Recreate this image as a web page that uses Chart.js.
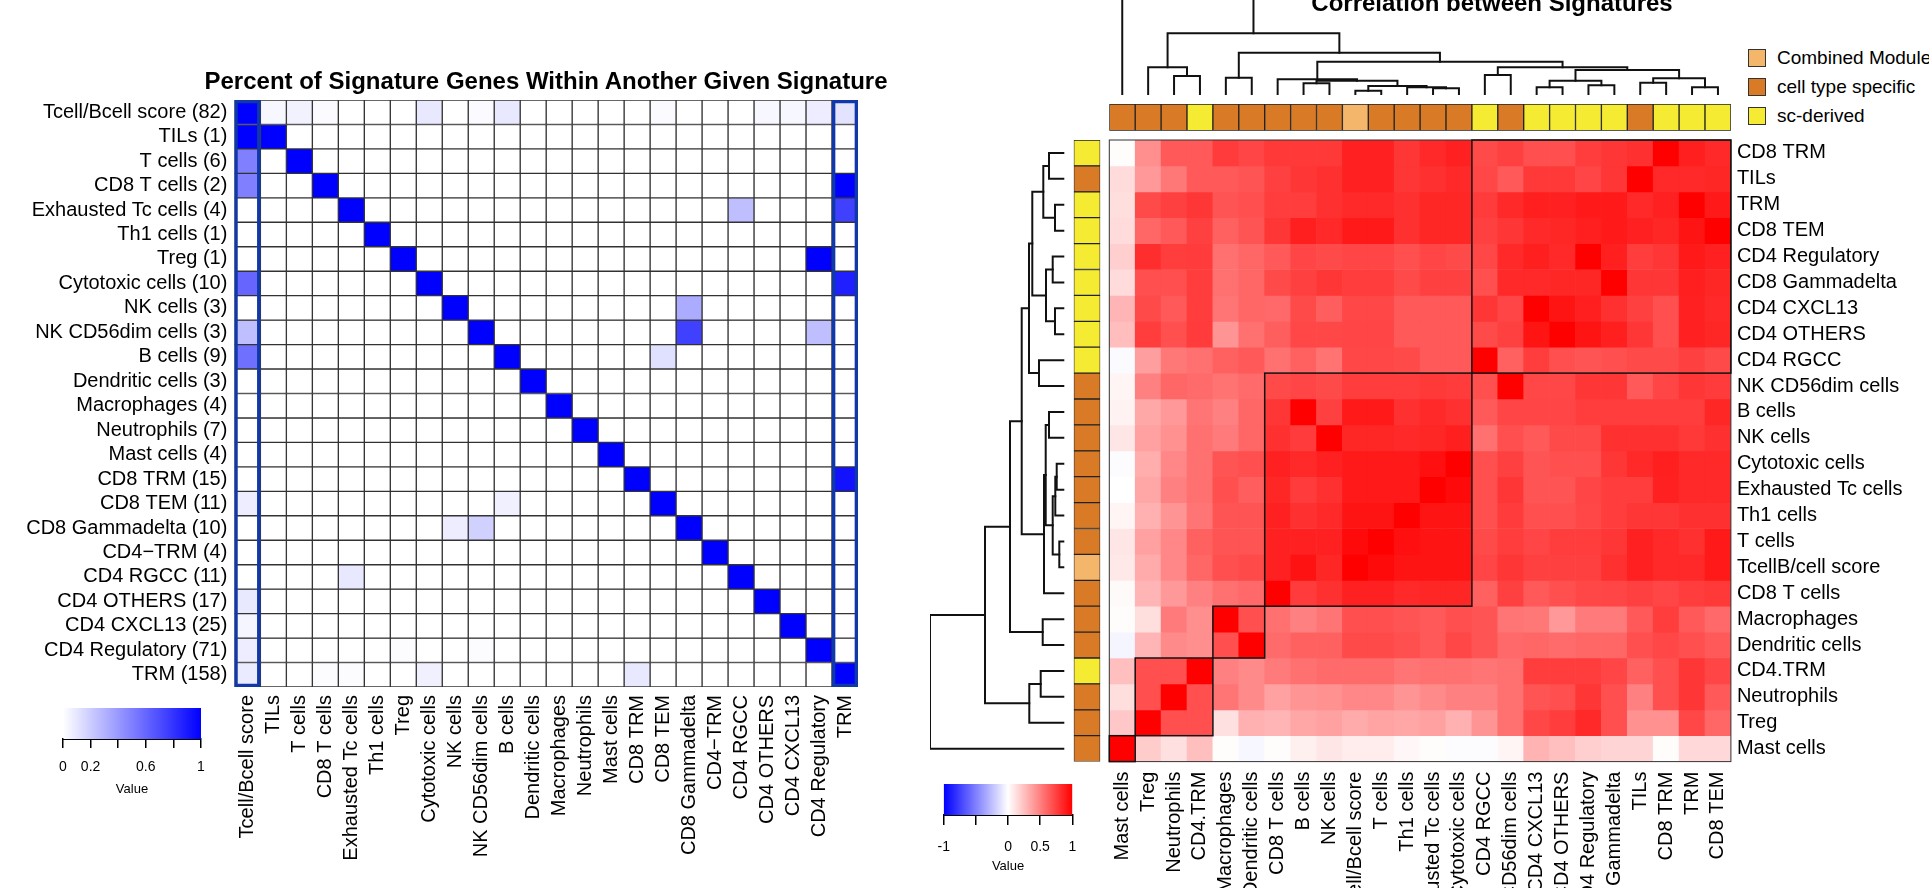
<!DOCTYPE html>
<html>
<head>
<meta charset="utf-8">
<title>Signature overlap and correlation</title>
<script src="https://cdn.jsdelivr.net/npm/chart.js@4.4.1/dist/chart.umd.min.js"></script>
<style>
  html, body { margin: 0; padding: 0; background: #fff; }
  #page { position: relative; width: 1929px; height: 888px; overflow: hidden; background: #fff;
          font-family: "Liberation Sans", Arial, sans-serif; color: #000; }
  canvas { position: absolute; }
  .title { position: absolute; transform: translateX(-50%); font-weight: bold; font-size: 24px;
           line-height: 24px; white-space: nowrap; }
  #overlapTitle { left: 546px; top: 69px; }
  #corrTitle { left: 1492px; top: -9px; }
  .grp { position: absolute; left: 1748px; height: 18px; display: flex; align-items: center;
         font-size: 19px; white-space: nowrap; }
  .grp span { display: inline-block; width: 16px; height: 16px; border: 1px solid #333; margin-right: 11px; }
</style>
</head>
<body>
<div id="page">
  <canvas id="overlap" width="900" height="888" style="left:0;top:0"></canvas>
  <canvas id="overlapKey" width="190" height="110" style="left:40px;top:700px"></canvas>
  <canvas id="colTree" width="640" height="100" style="left:1100px;top:0"></canvas>
  <canvas id="colBar" width="640" height="35" style="left:1100px;top:100px"></canvas>
  <canvas id="rowTree" width="150" height="640" style="left:920px;top:130px"></canvas>
  <canvas id="rowBar" width="35" height="640" style="left:1070px;top:130px"></canvas>
  <canvas id="corr" width="829" height="758" style="left:1100px;top:130px"></canvas>
  <canvas id="corrKey" width="180" height="112" style="left:920px;top:776px"></canvas>
  <div class="title" id="overlapTitle">Percent of Signature Genes Within Another Given Signature</div>
  <div class="title" id="corrTitle">Correlation between Signatures</div>
  <div id="groupKey"></div>
</div>
<script>
// ---- left panel: share of genes of one signature found in another
const overlapRows = ["Tcell/Bcell score (82)", "TILs (1)", "T cells (6)", "CD8 T cells (2)",
  "Exhausted Tc cells (4)", "Th1 cells (1)", "Treg (1)", "Cytotoxic cells (10)", "NK cells (3)",
  "NK CD56dim cells (3)", "B cells (9)", "Dendritic cells (3)", "Macrophages (4)", "Neutrophils (7)",
  "Mast cells (4)", "CD8 TRM (15)", "CD8 TEM (11)", "CD8 Gammadelta (10)", "CD4\u2212TRM (4)",
  "CD4 RGCC (11)", "CD4 OTHERS (17)", "CD4 CXCL13 (25)", "CD4 Regulatory (71)", "TRM (158)"];
const overlapCols = ["Tcell/Bcell score", "TILs", "T cells", "CD8 T cells", "Exhausted Tc cells",
  "Th1 cells", "Treg", "Cytotoxic cells", "NK cells", "NK CD56dim cells", "B cells", "Dendritic cells",
  "Macrophages", "Neutrophils", "Mast cells", "CD8 TRM", "CD8 TEM", "CD8 Gammadelta", "CD4\u2212TRM",
  "CD4 RGCC", "CD4 OTHERS", "CD4 CXCL13", "CD4 Regulatory", "TRM"];
const overlapValues = [
  [1, .03, .05, .02, 0, 0, 0, .09, 0, .02, .09, 0, 0, 0, 0, 0, .02, 0, 0, 0, .03, .03, .07, .11],
  [1, 1, 0, 0, 0, 0, 0, 0, 0, 0, 0, 0, 0, 0, 0, 0, 0, 0, 0, 0, 0, 0, 0, 0],
  [.5, 0, 1, 0, 0, 0, 0, 0, 0, 0, 0, 0, 0, 0, 0, 0, 0, 0, 0, 0, 0, 0, 0, 0],
  [.5, 0, 0, 1, 0, 0, 0, 0, 0, 0, 0, 0, 0, 0, 0, 0, 0, 0, 0, 0, 0, 0, 0, 1],
  [0, 0, 0, 0, 1, 0, 0, 0, 0, 0, 0, 0, 0, 0, 0, 0, 0, 0, 0, .25, 0, 0, 0, .75],
  [0, 0, 0, 0, 0, 1, 0, 0, 0, 0, 0, 0, 0, 0, 0, 0, 0, 0, 0, 0, 0, 0, 0, 0],
  [0, 0, 0, 0, 0, 0, 1, 0, 0, 0, 0, 0, 0, 0, 0, 0, 0, 0, 0, 0, 0, 0, 1, 0],
  [.6, 0, 0, 0, 0, 0, 0, 1, 0, 0, 0, 0, 0, 0, 0, 0, 0, 0, 0, 0, 0, 0, 0, .88],
  [0, 0, 0, 0, 0, 0, 0, 0, 1, 0, 0, 0, 0, 0, 0, 0, 0, .33, 0, 0, 0, 0, 0, 0],
  [.25, 0, 0, 0, 0, 0, 0, 0, 0, 1, 0, 0, 0, 0, 0, 0, 0, .75, 0, 0, 0, 0, .25, 0],
  [.56, 0, 0, 0, 0, 0, 0, 0, 0, 0, 1, 0, 0, 0, 0, 0, .12, 0, 0, 0, 0, 0, 0, 0],
  [0, 0, 0, 0, 0, 0, 0, 0, 0, 0, 0, 1, 0, 0, 0, 0, 0, 0, 0, 0, 0, 0, 0, 0],
  [0, 0, 0, 0, 0, 0, 0, 0, 0, 0, 0, 0, 1, 0, 0, 0, 0, 0, 0, 0, 0, 0, 0, 0],
  [0, 0, 0, 0, 0, 0, 0, 0, 0, 0, 0, 0, 0, 1, 0, 0, 0, 0, 0, 0, 0, 0, 0, 0],
  [0, 0, 0, 0, 0, 0, 0, 0, 0, 0, 0, 0, 0, 0, 1, 0, 0, 0, 0, 0, 0, 0, 0, 0],
  [0, 0, 0, 0, 0, 0, 0, 0, 0, 0, 0, 0, 0, 0, 0, 1, 0, 0, 0, 0, 0, 0, 0, .93],
  [.07, 0, 0, 0, 0, 0, 0, 0, 0, 0, .06, 0, 0, 0, 0, 0, 1, 0, 0, 0, 0, 0, 0, 0],
  [0, 0, 0, 0, 0, 0, 0, 0, .07, .18, 0, 0, 0, 0, 0, 0, 0, 1, 0, 0, 0, 0, 0, 0],
  [0, 0, 0, 0, 0, 0, 0, 0, 0, 0, 0, 0, 0, 0, 0, 0, 0, 0, 1, 0, 0, 0, 0, 0],
  [0, 0, 0, 0, .09, 0, 0, 0, 0, 0, 0, 0, 0, 0, 0, 0, 0, 0, 0, 1, 0, 0, 0, 0],
  [.09, 0, 0, 0, 0, 0, 0, 0, 0, 0, 0, 0, 0, 0, 0, 0, 0, 0, 0, 0, 1, 0, 0, 0],
  [.04, 0, 0, 0, 0, 0, 0, 0, 0, 0, 0, 0, 0, 0, 0, 0, 0, 0, 0, 0, 0, 1, 0, 0],
  [.07, 0, 0, 0, 0, 0, .01, 0, 0, .01, 0, 0, 0, 0, 0, 0, 0, 0, 0, 0, 0, 0, 1, 0],
  [.08, 0, 0, .01, .01, 0, 0, .06, 0, 0, 0, 0, 0, 0, 0, .09, 0, 0, 0, 0, 0, 0, 0, 1]
];
const framedCols = [0, 23];
const overlapKeyTicks = [0, 0.2, 0.4, 0.6, 0.8, 1];
const overlapKeyLabels = ["0", "0.2", "", "0.6", "", "1"];

// ---- right panel: correlation between signatures (clustered order)
const corrRows = ["CD8 TRM", "TILs", "TRM", "CD8 TEM", "CD4 Regulatory", "CD8 Gammadelta", "CD4 CXCL13",
  "CD4 OTHERS", "CD4 RGCC", "NK CD56dim cells", "B cells", "NK cells", "Cytotoxic cells",
  "Exhausted Tc cells", "Th1 cells", "T cells", "TcellB/cell score", "CD8 T cells", "Macrophages",
  "Dendritic cells", "CD4.TRM", "Neutrophils", "Treg", "Mast cells"];
const corrCols = ["Mast cells", "Treg", "Neutrophils", "CD4.TRM", "Macrophages", "Dendritic cells",
  "CD8 T cells", "B cells", "NK cells", "Tcell/Bcell score", "T cells", "Th1 cells", "Exhausted Tc cells",
  "Cytotoxic cells", "CD4 RGCC", "NK CD56dim cells", "CD4 CXCL13", "CD4 OTHERS", "CD4 Regulatory",
  "CD8 Gammadelta", "TILs", "CD8 TRM", "TRM", "CD8 TEM"];
const corrValues = [
  [.01, .44, .65, .65, .77, .73, .78, .78, .78, .87, .87, .79, .84, .87, .71, .75, .69, .69, .76, .79, .81, 1, .88, .84],
  [.14, .40, .53, .65, .65, .67, .75, .79, .81, .87, .87, .79, .81, .84, .72, .65, .78, .78, .73, .79, 1, .84, .84, .85],
  [.13, .71, .75, .79, .67, .69, .76, .76, .81, .84, .84, .81, .85, .85, .77, .84, .88, .87, .90, .90, .84, .87, 1, .90],
  [.14, .60, .65, .75, .62, .67, .79, .88, .84, .90, .90, .81, .85, .85, .75, .79, .84, .85, .88, .90, .87, .85, .92, 1],
  [.19, .82, .76, .77, .56, .60, .65, .73, .71, .73, .73, .69, .73, .71, .72, .84, .88, .84, 1, .88, .76, .79, .90, .87],
  [.14, .69, .69, .76, .56, .60, .71, .75, .79, .76, .76, .71, .75, .75, .69, .84, .84, .85, .85, 1, .79, .79, .88, .85],
  [.29, .71, .65, .76, .54, .60, .59, .71, .63, .72, .72, .65, .65, .65, .79, .73, 1, .92, .88, .81, .75, .69, .87, .84],
  [.26, .76, .69, .77, .42, .56, .63, .72, .72, .73, .73, .65, .65, .65, .71, .75, .92, 1, .92, .88, .79, .69, .87, .85],
  [-.02, .38, .53, .56, .62, .65, .56, .62, .55, .72, .72, .71, .65, .65, 1, .62, .76, .69, .67, .69, .71, .71, .75, .71],
  [.04, .50, .60, .58, .55, .58, .71, .73, .71, .76, .76, .76, .78, .77, .69, 1, .72, .72, .79, .79, .65, .73, .79, .77],
  [.05, .34, .40, .54, .50, .60, .79, 1, .75, .90, .90, .81, .84, .81, .65, .73, .73, .73, .76, .76, .76, .76, .76, .85],
  [.10, .37, .43, .56, .52, .60, .81, .77, 1, .85, .85, .84, .85, .88, .56, .69, .65, .71, .71, .81, .81, .81, .78, .81],
  [-.01, .32, .47, .56, .67, .69, .87, .84, .87, .90, .90, .90, .94, 1, .69, .75, .67, .69, .69, .79, .84, .88, .84, .84],
  [0, .35, .50, .56, .69, .63, .85, .77, .81, .90, .90, .90, 1, .96, .69, .79, .67, .67, .73, .76, .76, .87, .84, .84],
  [.04, .31, .42, .54, .67, .67, .87, .81, .84, .92, .92, 1, .92, .92, .69, .77, .69, .69, .72, .76, .79, .79, .81, .81],
  [.10, .37, .47, .62, .67, .67, .87, .87, .87, .96, 1, .94, .92, .92, .71, .76, .73, .76, .76, .79, .87, .84, .81, .90],
  [.09, .33, .47, .60, .69, .71, .87, .93, .85, 1, .96, .92, .92, .92, .73, .79, .75, .75, .75, .81, .87, .84, .84, .90],
  [.02, .29, .40, .50, .56, .59, 1, .77, .81, .87, .87, .84, .85, .85, .62, .75, .65, .69, .72, .73, .75, .73, .76, .78],
  [.01, .13, .52, .44, 1, .69, .56, .50, .54, .69, .69, .67, .65, .69, .67, .54, .53, .40, .52, .52, .65, .76, .65, .59],
  [-.04, .29, .46, .44, .69, 1, .58, .62, .62, .71, .71, .69, .65, .72, .67, .59, .60, .58, .60, .60, .69, .72, .69, .65],
  [.25, .69, .69, 1, .50, .46, .52, .56, .58, .58, .58, .54, .56, .56, .54, .56, .76, .76, .76, .73, .62, .69, .79, .73],
  [.13, .69, 1, .69, .54, .46, .37, .42, .43, .47, .47, .42, .46, .50, .50, .56, .67, .69, .79, .69, .50, .69, .79, .65],
  [.22, 1, .69, .69, .12, .31, .29, .35, .37, .33, .36, .35, .37, .31, .42, .56, .72, .76, .84, .69, .43, .43, .72, .60],
  [1, .20, .12, .25, .01, -.03, .01, .06, .10, .07, .07, .03, .01, -.01, -.01, .04, .30, .25, .19, .17, .17, .01, .15, .15]
];
// signature source: C = combined module, T = cell type specific, S = sc-derived
const rowGroups = ["S", "T", "S", "S", "S", "S", "S", "S", "S", "T", "T", "T", "T", "T", "T", "T", "C", "T", "T", "T", "S", "T", "T", "T"];
const colGroups = ["T", "T", "T", "S", "T", "T", "T", "T", "T", "C", "T", "T", "T", "T", "S", "T", "S", "S", "S", "S", "T", "S", "S", "S"];
const groupOrder = ["C", "T", "S"];
const groupNames = { C: "Combined Module", T: "cell type specific", S: "sc-derived" };
const groupColors = { C: "#F4B66B", T: "#D97B26", S: "#F6EB33" };
// cluster boxes: row range k goes with column range k
const rowBoxes = [[0, 8], [9, 17], [18, 19], [20, 22], [23, 23]];
const colBoxes = [[14, 23], [6, 13], [4, 5], [1, 3], [0, 0]];
// dendrograms: [a, b, height]; a number is a leaf position, "mK" is merge K
const colTree = [
  [2, 3, 19], [1, "m0", 27.7], [4, 5, 17.3], [7, 8, 11.7], [9, 10, 4.3], [12, 13, 6.7],
  [11, "m5", 7.7], ["m4", "m6", 9], ["m3", "m7", 14.3], [6, "m8", 15.7], [14, 15, 20],
  [16, 17, 7.7], [18, 19, 9.7], ["m11", "m12", 14.3], [20, 21, 12.3], [22, 23, 7.7],
  ["m14", "m15", 16.7], ["m13", "m16", 25], ["m10", "m17", 27.7], ["m9", "m18", 33.3],
  ["m2", "m19", 42.3], ["m1", "m20", 61.7], [0, "m21", 130]
];
const rowTree = [
  [0, 1, 15.3], [2, 3, 9.3], ["m0", "m1", 21], [4, 5, 11.6], [6, 7, 9.3], ["m3", "m4", 18.3],
  ["m2", "m5", 32], [8, 9, 25.3], ["m6", "m7", 35.3], [10, 11, 15.3], [12, 13, 7.6],
  ["m10", 14, 9], [15, 16, 5], ["m11", "m12", 11.6], ["m9", "m13", 18.6], ["m14", 17, 20.3],
  ["m8", "m15", 42.6], [18, 19, 21.6], ["m16", "m17", 54.3], [20, 21, 23.6], ["m19", 22, 35],
  ["m18", "m20", 79.3], ["m21", 23, 134.3]
];
const corrKeyTicks = [-1, -0.5, 0, 0.5, 1];
const corrKeyLabels = ["-1", "", "0", "0.5", "1"];

Chart.defaults.font.family = '"Liberation Sans", Arial, sans-serif';
Chart.defaults.color = "#000";
Chart.defaults.animation = false;
Chart.defaults.events = [];
Chart.defaults.plugins.legend.display = false;
Chart.defaults.plugins.tooltip.enabled = false;

function whiteBlue(v) {
  const c = Math.round(255 * (1 - v));
  return `rgb(${c},${c},255)`;
}
function blueWhiteRed(v) {
  if (v >= 0) {
    const c = Math.round(255 * (1 - v));
    return `rgb(255,${c},${c})`;
  }
  const c = Math.round(255 * (1 + v));
  return `rgb(${c},${c},255)`;
}

// pin an axis to a fixed size and drop the label overhang padding
function pinAxis(prop, size) {
  return (s) => {
    s[prop] = size;
    s.paddingLeft = 0; s.paddingRight = 0; s.paddingTop = 0; s.paddingBottom = 0;
  };
}

const noGrid = { display: false, drawTicks: false };
const noBorder = { display: false };

// left heatmap
new Chart(document.getElementById("overlap"), {
  type: "bar",
  data: {
    labels: overlapCols,
    datasets: [
      {
        data: overlapCols.map((_, j) => framedCols.includes(j) ? [0, overlapRows.length] : null),
        backgroundColor: "rgba(0,0,0,0)",
        borderColor: "#1038a8",
        borderWidth: 3,
        borderSkipped: false,
        order: -1
      },
      ...overlapRows.map((_, i) => ({
        data: overlapCols.map(() => [i, i + 1]),
        backgroundColor: (ctx) => whiteBlue(overlapValues[i][ctx.dataIndex]),
        borderColor: "#333",
        borderWidth: 1,
        borderSkipped: false,
        order: 1
      }))
    ]
  },
  options: {
    responsive: false,
    datasets: { bar: { grouped: false, barPercentage: 1, categoryPercentage: 1 } },
    layout: { padding: { left: 0, right: 42, top: 100, bottom: 0 } },
    scales: {
      x: {
        type: "category",
        grid: noGrid,
        border: noBorder,
        ticks: { autoSkip: false, minRotation: 90, maxRotation: 90, padding: 8, font: { size: 20 } },
        afterFit: pinAxis("height", 201)
      },
      y: {
        type: "linear",
        min: 0,
        max: overlapRows.length,
        reverse: true,
        grid: noGrid,
        border: noBorder,
        afterBuildTicks: (s) => { s.ticks = overlapRows.map((_, i) => ({ value: i + 0.5 })); },
        ticks: { autoSkip: false, padding: 7, font: { size: 20 }, callback: (v, i) => overlapRows[i] },
        afterFit: pinAxis("width", 234.4)
      }
    }
  }
});

function keyGradient(ctx, colorFn, lo, hi) {
  const area = ctx.chart.chartArea;
  if (!area) return "rgba(0,0,0,0)";
  const g = ctx.chart.ctx.createLinearGradient(area.left, 0, area.right, 0);
  for (let k = 0; k <= 20; k++) {
    g.addColorStop(k / 20, colorFn(lo + (hi - lo) * k / 20));
  }
  return g;
}

function colorKey(id, ticks, labels, colorFn, pad, axisHeight, tickLen, labelPad) {
  const lo = ticks[0], hi = ticks[ticks.length - 1];
  return new Chart(document.getElementById(id), {
    type: "bar",
    data: {
      labels: ["Value"],
      datasets: [{
        data: [[lo, hi]],
        backgroundColor: (ctx) => keyGradient(ctx, colorFn, lo, hi),
        barPercentage: 1,
        categoryPercentage: 1
      }]
    },
    options: {
      responsive: false,
      indexAxis: "y",
      layout: { padding: pad },
      scales: {
        y: { display: false },
        x: {
          type: "linear",
          min: lo,
          max: hi,
          afterBuildTicks: (s) => { s.ticks = ticks.map((v) => ({ value: v })); },
          ticks: { autoSkip: false, maxRotation: 0, padding: labelPad, font: { size: 14 },
                   callback: (v, i) => labels[i] },
          grid: { drawOnChartArea: false, tickLength: tickLen, color: "#000", lineWidth: 1.5 },
          border: { display: true, color: "#000", width: 2 },
          title: { display: true, text: "Value", font: { size: 13 }, padding: { top: 0, bottom: 0 } },
          afterFit: pinAxis("height", axisHeight)
        }
      }
    }
  });
}
colorKey("overlapKey", overlapKeyTicks, overlapKeyLabels, whiteBlue,
  { left: 23, right: 29, top: 8, bottom: 13 }, 58, 9, 11);
colorKey("corrKey", corrKeyTicks, corrKeyLabels, blueWhiteRed,
  { left: 23.8, right: 27.7, top: 8, bottom: 13.5 }, 59.5, 10, 14);

// right heatmap
const clusterBoxes = {
  id: "clusterBoxes",
  afterDatasetsDraw(chart) {
    const { ctx, chartArea, scales: { x, y } } = chart;
    const half = (x.getPixelForValue(1) - x.getPixelForValue(0)) / 2;
    ctx.save();
    ctx.strokeStyle = "#333";
    ctx.lineWidth = 1;
    ctx.strokeRect(chartArea.left, chartArea.top, chartArea.width, chartArea.height);
    ctx.strokeStyle = "#111";
    ctx.lineWidth = 1.5;
    rowBoxes.forEach((rb, k) => {
      const cb = colBoxes[k];
      const x0 = x.getPixelForValue(cb[0]) - half;
      const x1 = x.getPixelForValue(cb[1]) + half;
      const y0 = y.getPixelForValue(rb[0]);
      const y1 = y.getPixelForValue(rb[1] + 1);
      ctx.strokeRect(x0, y0, x1 - x0, y1 - y0);
    });
    ctx.restore();
  }
};

new Chart(document.getElementById("corr"), {
  type: "bar",
  data: {
    labels: corrCols,
    datasets: corrRows.map((_, i) => ({
      data: corrCols.map(() => [i, i + 1]),
      backgroundColor: (ctx) => blueWhiteRed(corrValues[i][ctx.dataIndex]),
      borderWidth: 0
    }))
  },
  options: {
    responsive: false,
    datasets: { bar: { grouped: false, barPercentage: 1, categoryPercentage: 1 } },
    layout: { padding: { left: 9.3, right: 0, top: 10, bottom: 0 } },
    scales: {
      x: {
        type: "category",
        grid: noGrid,
        border: noBorder,
        ticks: { autoSkip: false, minRotation: 90, maxRotation: 90, padding: 10, font: { size: 20 } },
        afterFit: pinAxis("height", 126.4)
      },
      y: {
        type: "linear",
        position: "right",
        min: 0,
        max: corrRows.length,
        reverse: true,
        grid: noGrid,
        border: noBorder,
        afterBuildTicks: (s) => { s.ticks = corrRows.map((_, i) => ({ value: i + 0.5 })); },
        ticks: { autoSkip: false, padding: 6, font: { size: 20 }, callback: (v, i) => corrRows[i] },
        afterFit: pinAxis("width", 198.1)
      }
    }
  },
  plugins: [clusterBoxes]
});

// side colour bars
new Chart(document.getElementById("colBar"), {
  type: "bar",
  data: {
    labels: corrCols,
    datasets: [{
      data: corrCols.map(() => [0, 1]),
      backgroundColor: (ctx) => groupColors[colGroups[ctx.dataIndex]],
      borderColor: "#222",
      borderWidth: 1,
      borderSkipped: false,
      barPercentage: 1,
      categoryPercentage: 1
    }]
  },
  options: {
    responsive: false,
    layout: { padding: { left: 9.3, right: 9.1, top: 4, bottom: 4.3 } },
    scales: { x: { display: false }, y: { display: false, min: 0, max: 1 } }
  }
});

new Chart(document.getElementById("rowBar"), {
  type: "bar",
  data: {
    labels: corrRows,
    datasets: [{
      data: corrRows.map(() => [0, 1]),
      backgroundColor: (ctx) => groupColors[rowGroups[ctx.dataIndex]],
      borderColor: "#222",
      borderWidth: 1,
      borderSkipped: false,
      barPercentage: 1,
      categoryPercentage: 1
    }]
  },
  options: {
    responsive: false,
    indexAxis: "y",
    layout: { padding: { left: 3.7, right: 4.7, top: 10, bottom: 8.4 } },
    scales: { y: { display: false }, x: { display: false, min: 0, max: 1 } }
  }
});

// dendrograms
function treeSegments(tree) {
  const nodes = [];
  const at = (ref) => typeof ref === "number" ? { p: ref + 0.5, h: 0 } : nodes[Number(ref.slice(1))];
  return tree.map(([a, b, h]) => {
    const na = at(a), nb = at(b);
    nodes.push({ p: (na.p + nb.p) / 2, h });
    return [na, { p: na.p, h }, { p: nb.p, h }, nb];
  });
}
const treeLine = { showLine: true, borderColor: "#111", borderWidth: 2, pointRadius: 0,
                   borderCapStyle: "square", borderJoinStyle: "miter" };

new Chart(document.getElementById("colTree"), {
  type: "scatter",
  data: {
    datasets: treeSegments(colTree).map((seg) => ({
      data: seg.map((q) => ({ x: q.p, y: q.h })), ...treeLine
    }))
  },
  options: {
    responsive: false,
    layout: { padding: { left: 9.3, right: 9.1, top: 0, bottom: 5 } },
    scales: {
      x: { display: false, min: 0, max: corrCols.length },
      y: { display: false, min: 0, max: 95 }
    }
  }
});

new Chart(document.getElementById("rowTree"), {
  type: "scatter",
  data: {
    datasets: treeSegments(rowTree).map((seg) => ({
      data: seg.map((q) => ({ x: q.h, y: q.p })), ...treeLine
    }))
  },
  options: {
    responsive: false,
    layout: { padding: { left: 10, right: 5.7, top: 10, bottom: 8.4 } },
    scales: {
      x: { display: false, min: 0, max: 134.3, reverse: true },
      y: { display: false, min: 0, max: corrRows.length, reverse: true }
    }
  }
});

// group key
const groupKey = document.getElementById("groupKey");
const keyCentres = [58, 87, 116];
groupOrder.forEach((g, k) => {
  const row = document.createElement("div");
  row.className = "grp";
  row.style.top = (keyCentres[k] - 9) + "px";
  row.innerHTML = `<span style="background:${groupColors[g]}"></span>${groupNames[g]}`;
  groupKey.appendChild(row);
});
</script>
</body>
</html>
